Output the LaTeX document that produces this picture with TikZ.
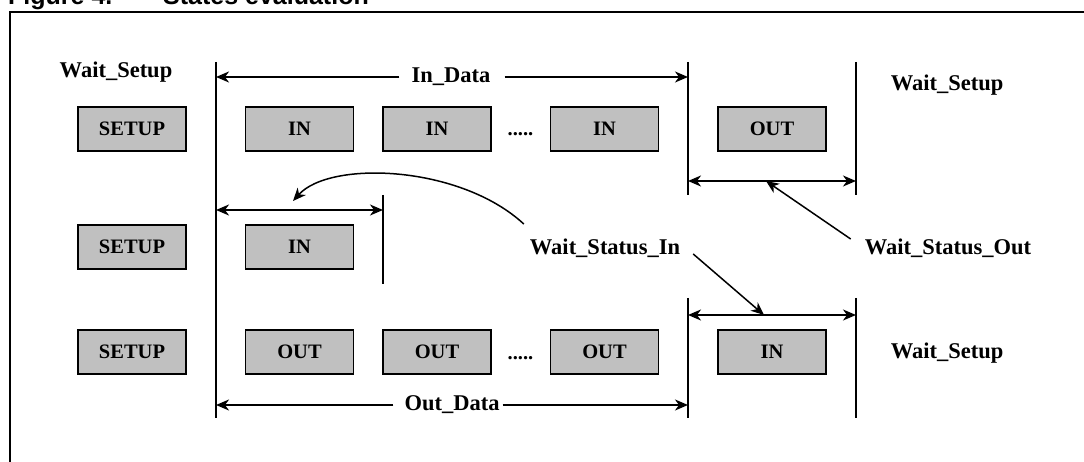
\documentclass[tikz,border=0pt]{standalone}
\usepackage{fontspec}
\setmainfont{Liberation Serif}
\newfontfamily\titlefont{Liberation Sans}
\usetikzlibrary{arrows.meta}
\definecolor{boxgray}{RGB}{192,192,192}
\tikzset{
  blk/.style={draw, line width=1.8pt, fill=boxgray, minimum width=108pt, minimum height=44pt,
              inner sep=0pt, font=\fontsize{20.5}{24}\selectfont\bfseries},
  lbl/.style={inner sep=0pt, font=\fontsize{22.5}{26}\selectfont\bfseries},
  dotsl/.style={inner sep=0pt, anchor=base, font=\fontsize{20.5}{24}\selectfont\bfseries},
  ttl/.style={inner sep=0pt, anchor=base west, font=\titlefont\bfseries\fontsize{25}{30}\selectfont},
  ln/.style={line width=1.5pt},
  tipend/.style={-{Stealth[length=13pt,width=11pt,inset=4pt]}},
  dblend/.style={{Stealth[length=13pt,width=11pt,inset=4pt]}-{Stealth[length=13pt,width=11pt,inset=4pt]}},
}
\begin{document}
\begin{tikzpicture}[x=1pt,y=-1pt]
\useasboundingbox (0,0) rectangle (1084,462);
% frame and title
\draw[line width=2.5pt] (10,480) -- (10,12) -- (1100,12);
\node[ttl] (fig) at (8,5) {Figure 4.};
\node[ttl] (title) at (163,5) {States evaluation};

% row 1
\node[blk] (s1) at (132,129) {SETUP};
\node[blk] (i1) at (299.5,129) {IN};
\node[blk] (i2) at (437,129) {IN};
\node[dotsl] (d1) at (520.5,136) {.....};
\node[blk] (i3) at (604.5,129) {IN};
\node[blk] (o1) at (772,129) {OUT};
% row 2
\node[blk] (s2) at (132,247) {SETUP};
\node[blk] (i4) at (299.5,247) {IN};
% row 3
\node[blk] (s3) at (132,352) {SETUP};
\node[blk] (o2) at (299.5,352) {OUT};
\node[blk] (o3) at (437,352) {OUT};
\node[dotsl] (d2) at (520.5,359) {.....};
\node[blk] (o4) at (604.5,352) {OUT};
\node[blk] (i5) at (772,352) {IN};

% labels
\node[lbl] (ws1) at (116,72) {Wait\_Setup};
\node[lbl] (ws2) at (947,85) {Wait\_Setup};
\node[lbl] (ws3) at (947,353) {Wait\_Setup};
\node[lbl] (wsi) at (605,248) {Wait\_Status\_In};
\node[lbl] (wso) at (948,248) {Wait\_Status\_Out};
\node[lbl] (indata) at (451,77) {In\_Data};
\node[lbl] (outdata) at (452,405) {Out\_Data};

% vertical marker lines
\coordinate (a1) at (216,62);  \coordinate (a2) at (216,418);
\coordinate (b1) at (688,62);  \coordinate (b2) at (688,195);
\coordinate (b3) at (688,298); \coordinate (b4) at (688,418);
\coordinate (c1) at (856,62);  \coordinate (c2) at (856,195);
\coordinate (c3) at (856,298); \coordinate (c4) at (856,418);
\coordinate (e1) at (383,195); \coordinate (e2) at (383,284);
\draw[ln] (a1) -- (a2);
\draw[ln] (b1) -- (b2);
\draw[ln] (b3) -- (b4);
\draw[ln] (c1) -- (c2);
\draw[ln] (c3) -- (c4);
\draw[ln] (e1) -- (e2);

% span arrows
\coordinate (inL) at (216,77);  \coordinate (inR) at (688,77);
\coordinate (outL) at (216,405); \coordinate (outR) at (688,405);
\draw[ln,tipend] ([xshift=-12pt]indata.west) -- (inL);
\draw[ln,tipend] ([xshift=14pt]indata.east) -- (inR);
\draw[ln,tipend] ([xshift=-11pt]outdata.west) -- (outL);
\draw[ln,tipend] ([xshift=3pt]outdata.east) -- (outR);

\coordinate (r1L) at (688,181); \coordinate (r1R) at (856,181);
\coordinate (r2L) at (216,210); \coordinate (r2R) at (383,210);
\coordinate (r3L) at (688,315); \coordinate (r3R) at (856,315);
\draw[ln,dblend] (r1L) -- (r1R);
\draw[ln,dblend] (r2L) -- (r2R);
\draw[ln,dblend] (r3L) -- (r3R);

% pointers
\coordinate (tipOut) at (766,181);
\coordinate (tipIn) at (764,315);
\coordinate (tipCurve) at (293,201);
\draw[ln,tipend] ([xshift=-14pt,yshift=9pt]wso.west) -- (tipOut);
\draw[ln,tipend] ([xshift=13pt,yshift=-6pt]wsi.east) -- (tipIn);
\draw[ln,tipend] ([xshift=-6pt,yshift=24pt]wsi.west) .. controls (460,165) and (330,160) .. (tipCurve);
\end{tikzpicture}
\end{document}
